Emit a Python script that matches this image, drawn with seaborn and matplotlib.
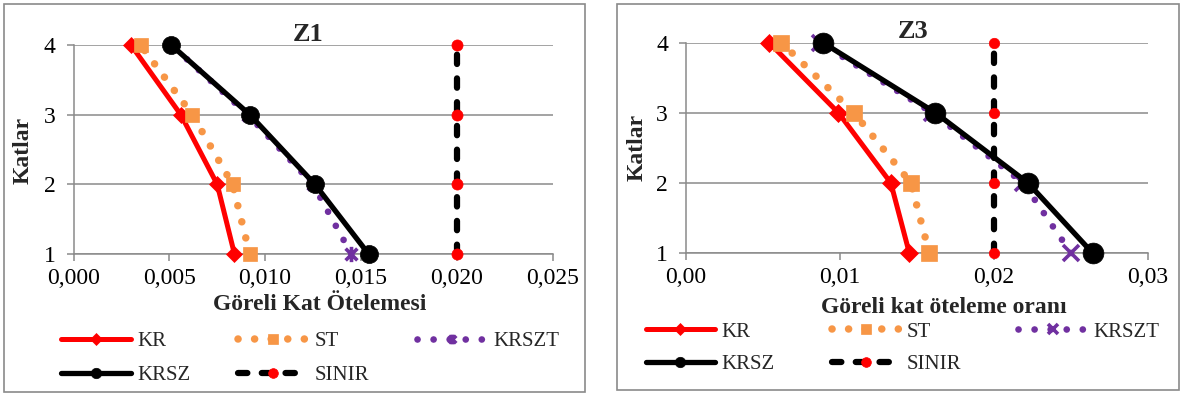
import numpy as np
import pandas as pd
import matplotlib
matplotlib.use('Agg')
import matplotlib.pyplot as plt
import seaborn as sns
from matplotlib.lines import Line2D
from matplotlib.path import Path
from matplotlib.patches import Rectangle
from matplotlib.ticker import FuncFormatter

katlar = [1, 2, 3, 4]

# Z1 - Göreli Kat Ötelemesi
z1_kr = [0.0084, 0.0075, 0.0056, 0.0030]
z1_st = [0.0092, 0.0083, 0.0062, 0.0035]
z1_krszt = [0.0145, 0.0125, 0.0091, 0.0051]
z1_krsz = [0.0154, 0.0126, 0.0092, 0.0051]
z1_sinir = [0.020, 0.020, 0.020, 0.020]

# Z3 - Göreli kat öteleme oranı
z3_kr = [0.0145, 0.0133, 0.0099, 0.0054]
z3_st = [0.0158, 0.0146, 0.0109, 0.0062]
z3_krszt = [0.0250, 0.0219, 0.0160, 0.0087]
z3_krsz = [0.0264, 0.0222, 0.0162, 0.0089]
z3_sinir = [0.020, 0.020, 0.020, 0.020]

sns.set_theme(style='white')
plt.rcParams['font.family'] = ['Liberation Serif', 'DejaVu Serif']

W, H = 1182, 394
GRIS = '#8a8a8a'

# yildiz isaretci (excel "star")
star = Path([(-1, -1), (1, 1), (-1, 1), (1, -1), (0, -1.3), (0, 1.3)],
            [Path.MOVETO, Path.LINETO, Path.MOVETO, Path.LINETO, Path.MOVETO, Path.LINETO])


def panel(ax, kr, st, krszt, krsz, sinir, xmax, step, fmt, ms, krszt_marker):
    common = dict(ax=ax, orient='y', estimator=None, sort=False, clip_on=False)
    sns.lineplot(x=kr, y=katlar, color='#ff0000', linewidth=3.6, marker='D',
                 markersize=ms[0], markeredgecolor='#ff0000', markeredgewidth=0.5,
                 label='KR', zorder=3, **common)
    sns.lineplot(x=st, y=katlar, color='#f79646', linewidth=5.4, linestyle=(0, (0.01, 2.2)),
                 dash_capstyle='round', marker='s', markersize=ms[1],
                 markeredgecolor='#f79646', markeredgewidth=0.5, label='ST', zorder=3, **common)
    sns.lineplot(x=krszt, y=katlar, color='#7030a0', linewidth=4.8, linestyle=(0, (0.01, 2.4)),
                 dash_capstyle='round', marker=krszt_marker, markersize=ms[2],
                 markeredgecolor='#7030a0', markeredgewidth=2.6, label='KRSZT', zorder=3, **common)
    sns.lineplot(x=krsz, y=katlar, color='black', linewidth=3.8, marker='o',
                 markersize=ms[3], markeredgecolor='black', markeredgewidth=0.5,
                 label='KRSZ', zorder=4, **common)
    sns.lineplot(x=sinir, y=katlar, color='black', linewidth=4.5, linestyle=(0, (1.5, 2.3)),
                 dash_capstyle='round', marker='o', markersize=ms[4],
                 markerfacecolor='#ff0000', markeredgecolor='#ff0000', markeredgewidth=0.5,
                 label='SINIR', zorder=4, **common)

    ax.set_xlim(0, xmax)
    ax.set_ylim(1, 4)
    ax.set_xticks(np.arange(0, xmax + step / 2, step))
    ax.set_yticks(katlar)
    ax.xaxis.set_major_formatter(FuncFormatter(lambda v, p: fmt.format(v).replace('.', ',')))
    ax.yaxis.grid(True, color=GRIS, linewidth=1.1)
    ax.xaxis.grid(False)
    ax.set_axisbelow(True)
    for s in ['top', 'right']:
        ax.spines[s].set_visible(False)
    for s in ['left', 'bottom']:
        ax.spines[s].set_color(GRIS)
        ax.spines[s].set_linewidth(1.1)
    ax.tick_params(axis='x', direction='out', length=5, width=1.1, color=GRIS,
                   labelsize=17, pad=5, bottom=True)
    ax.tick_params(axis='y', direction='out', length=5, width=1.1, color=GRIS,
                   labelsize=17, pad=8, left=True)
    for t in ax.get_xticklabels() + ax.get_yticklabels():
        t.set_color('black')


fig = plt.figure(figsize=(W / 100, H / 100), dpi=100)
fig.patch.set_facecolor('white')

fig.add_artist(Rectangle((4 / W, 2 / H), 581 / W, 388 / H, transform=fig.transFigure,
                         fill=False, edgecolor=GRIS, linewidth=1.2))
fig.add_artist(Rectangle((617 / W, 4 / H), 562 / W, 386 / H, transform=fig.transFigure,
                         fill=False, edgecolor=GRIS, linewidth=1.2))

ax1 = fig.add_axes([73.5 / W, 140 / H, 479 / W, 209 / H])
ax2 = fig.add_axes([686 / W, 141 / H, 462 / W, 210.3 / H])

panel(ax1, z1_kr, z1_st, z1_krszt, z1_krsz, z1_sinir, 0.025, 0.005, '{:.3f}',
      [8.5, 10.5, 11, 13, 8], star)
panel(ax2, z3_kr, z3_st, z3_krszt, z3_krsz, z3_sinir, 0.03, 0.01, '{:.2f}',
      [9, 11.5, 11, 15, 7.5], 'x')

ax1.text(0.4896, 1.048, 'Z1', transform=ax1.transAxes, ha='center', va='center',
         fontsize=19, fontweight='bold')
ax2.text(0.491, 1.051, 'Z3', transform=ax2.transAxes, ha='center', va='center',
         fontsize=19, fontweight='bold')

ax1.set_xlabel('Göreli Kat Ötelemesi', fontsize=17, fontweight='bold', va='center')
ax1.xaxis.set_label_coords(0.5146, -0.244)
ax2.set_xlabel('Göreli kat öteleme oranı', fontsize=17, fontweight='bold', va='center')
ax2.xaxis.set_label_coords(0.558, -0.2615)
ax1.set_ylabel('Katlar', fontsize=17, fontweight='bold', va='center')
ax1.yaxis.set_label_coords(-0.1054, 0.4976)
ax2.set_ylabel('Katlar', fontsize=17, fontweight='bold', va='center')
ax2.yaxis.set_label_coords(-0.106, 0.504)

# lejant: excel gibi satir satir (KR, ST, KRSZT / KRSZ, SINIR)
order = ['KR', 'KRSZ', 'ST', 'SINIR', 'KRSZT']
leg_ms = {'KR': 6, 'KRSZ': 7.5, 'ST': 7.5, 'SINIR': 7, 'KRSZT': 7}
for ax, lx, ly, cs, ls, hl in [(ax1, 60.7, 358.5, 2.3, 0.7, 3.37), (ax2, 646, 348, 2.75, 0.6, 3.3)]:
    lines = {l.get_label(): l for l in ax.get_lines()}
    proxies = []
    for k in order:
        h = Line2D([], [])
        h.update_from(lines[k])
        h.set_markersize(leg_ms[k])
        proxies.append(h)
    ax.legend(proxies, order, loc='center left',
              bbox_to_anchor=(lx / W, 1 - ly / H), bbox_transform=fig.transFigure,
              ncol=3, frameon=False, fontsize=15, handlelength=hl, handletextpad=0.3,
              columnspacing=cs, labelspacing=ls, borderpad=0, borderaxespad=0)

fig.savefig('out.png', dpi=100)
